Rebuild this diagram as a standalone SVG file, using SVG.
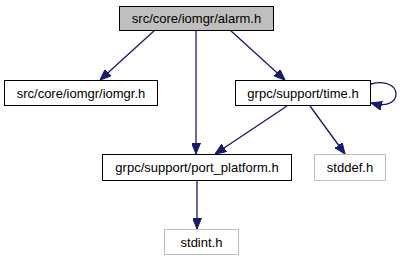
<svg xmlns="http://www.w3.org/2000/svg" width="400" height="261" viewBox="0 0 400 261">
  <style>
    .box { fill: #ffffff; stroke: #000000; stroke-width: 1; }
    .cur { fill: #bfbfbf; stroke: #000000; stroke-width: 1; }
    .ext { fill: #ffffff; stroke: #bfbfbf; stroke-width: 1; }
    .lbl { font-family: "Liberation Sans", Arial, sans-serif; font-size: 13px; fill: #000000; text-anchor: middle; }
    .edge { fill: none; stroke: #191970; stroke-width: 1.3; }
  </style>
  <defs>
    <marker id="arrow" viewBox="0 0 11 9" refX="11" refY="4.5" markerWidth="11" markerHeight="9" markerUnits="userSpaceOnUse" orient="auto">
      <path d="M0,0 L11,4.5 L0,9 Z" fill="#191970" stroke="#191970"/>
    </marker>
  </defs>
  <rect width="400" height="261" fill="#ffffff"/>

  <g id="edges">
    <path class="edge" d="M155,30 L100,80" marker-end="url(#arrow)"/>
    <path class="edge" d="M196,30 L196,154" marker-end="url(#arrow)"/>
    <path class="edge" d="M230,30 L285,80" marker-end="url(#arrow)"/>
    <path class="edge" d="M287,106 L215,154" marker-end="url(#arrow)"/>
    <path class="edge" d="M310,106 L345,154" marker-end="url(#arrow)"/>
    <path class="edge" d="M197,181 L197,229" marker-end="url(#arrow)"/>
    <path class="edge" d="M371,84 C386,80 396,86 396,94 C396,103 386,107 371,103" marker-end="url(#arrow)"/>
  </g>

  <g id="node-alarm">
    <rect class="cur" x="119.5" y="6.5" width="154" height="24"/>
    <text class="lbl" x="196.5" y="23">src/core/iomgr/alarm.h</text>
  </g>
  <g id="node-iomgr">
    <rect class="box" x="4.5" y="80.5" width="153" height="25"/>
    <text class="lbl" x="81" y="97.5">src/core/iomgr/iomgr.h</text>
  </g>
  <g id="node-time">
    <rect class="box" x="235.5" y="80.5" width="135" height="25"/>
    <text class="lbl" x="303" y="97.5">grpc/support/time.h</text>
  </g>
  <g id="node-port-platform">
    <rect class="box" x="102.5" y="154.5" width="189" height="26"/>
    <text class="lbl" x="197" y="172">grpc/support/port_platform.h</text>
  </g>
  <g id="node-stddef">
    <rect class="ext" x="314.5" y="154.5" width="71" height="26"/>
    <text class="lbl" x="350" y="172">stddef.h</text>
  </g>
  <g id="node-stdint">
    <rect class="ext" x="164.5" y="229.5" width="74" height="25"/>
    <text class="lbl" x="201.5" y="247">stdint.h</text>
  </g>
</svg>
